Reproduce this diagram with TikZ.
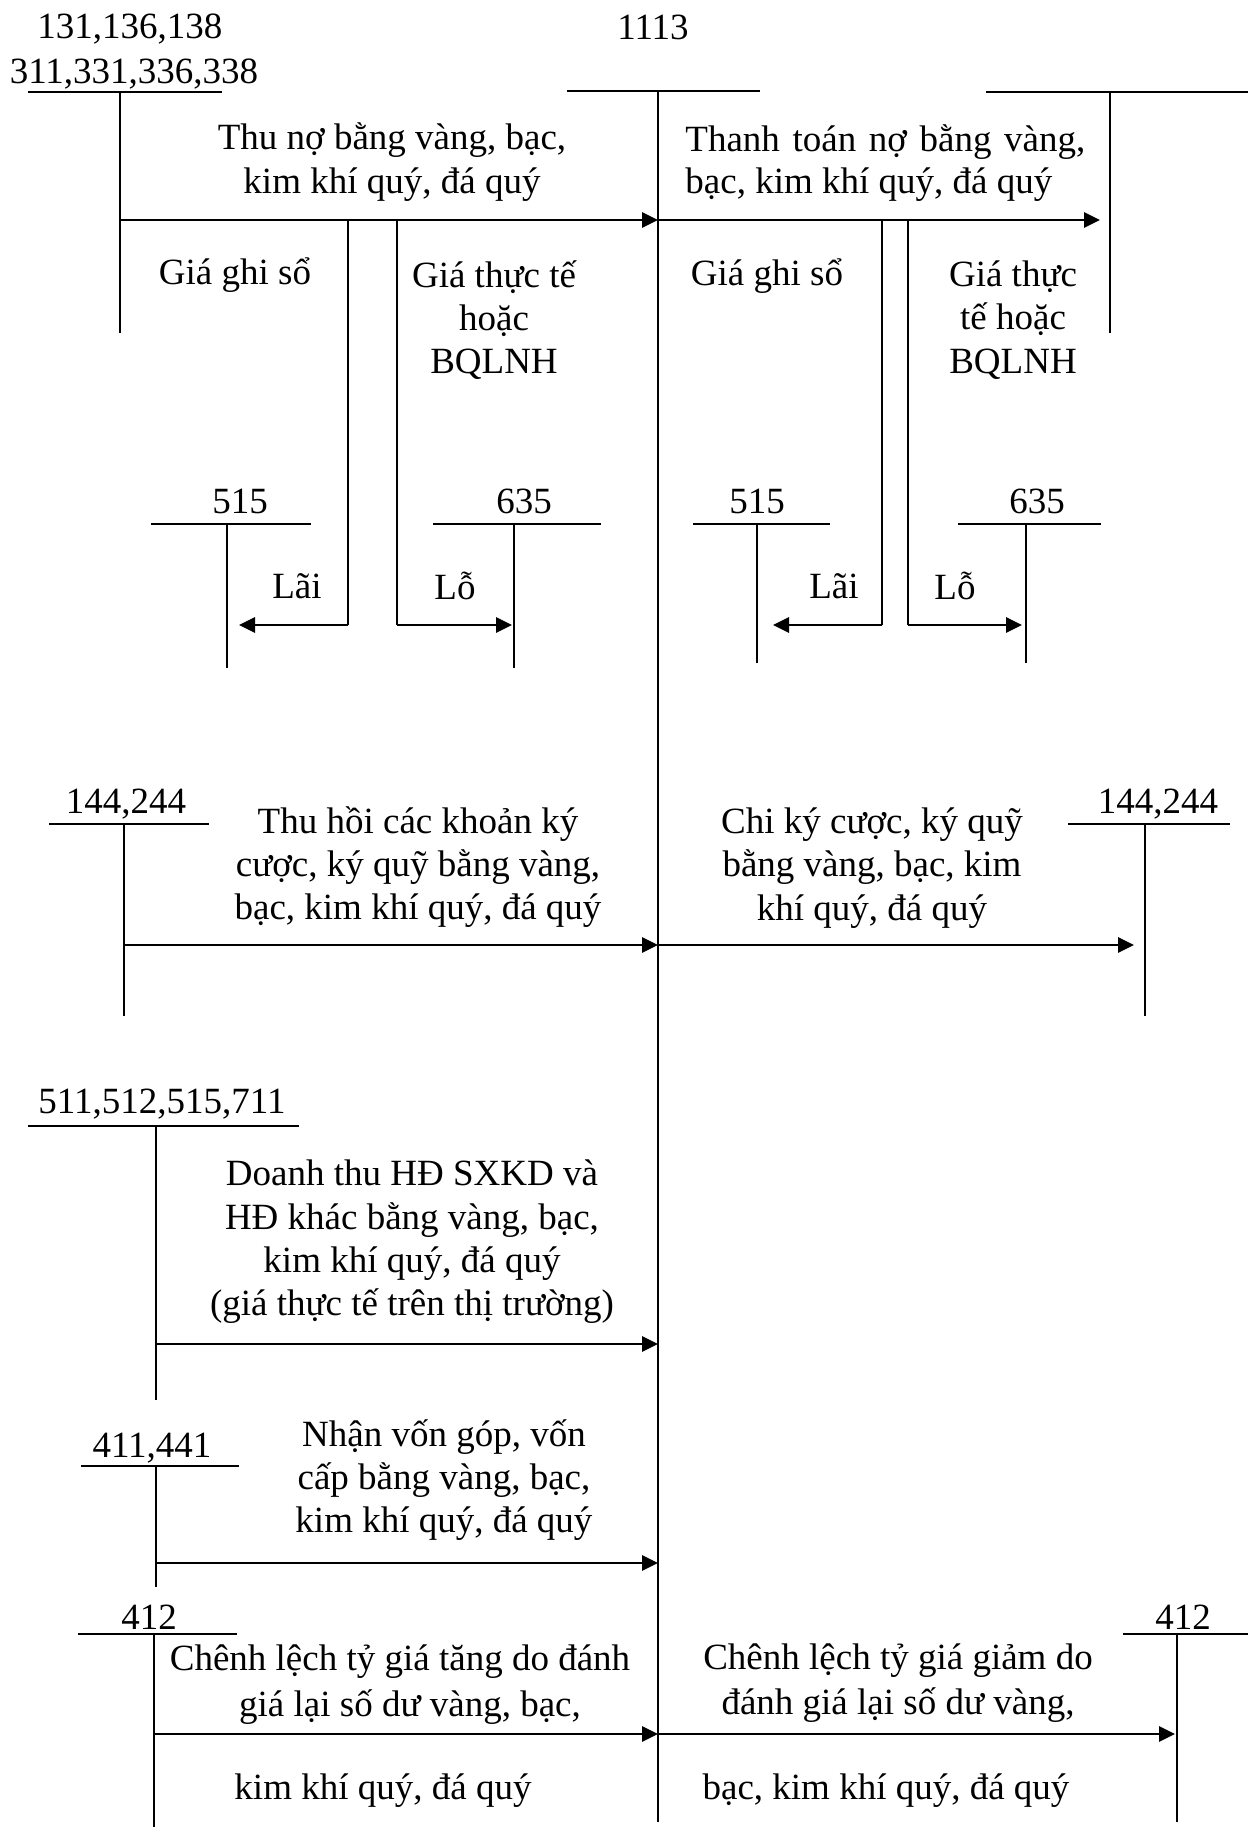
\documentclass[tikz,border=0pt]{standalone}
\usepackage{fontspec}
\setmainfont{Liberation Serif}
\usetikzlibrary{arrows.meta}
\begin{document}
\begin{tikzpicture}[x=0.5pt,y=-0.5pt,
  txt/.style={inner sep=0pt, font=\fontsize{18.5pt}{21.7pt}\selectfont, align=center},
  bar/.style={line width=0.9pt},
  stem/.style={line width=0.6pt},
  flow/.style={line width=1.4pt, -{Triangle[length=8pt,width=7.5pt]}},
  link/.style={line width=0.6pt},
]
\useasboundingbox (0,0) rectangle (1248,1827);

% ---------- main account 1113 ----------
\node[txt] (t1113) at (653,27) {1113};
\coordinate (Mtop) at (658,91);
\coordinate (Mbot) at (658,1822);
\draw[bar] (567,91) -- (760,91);
\draw[stem] (Mtop) -- (Mbot);

% ---------- top-left 131... ----------
\node[txt] (t131) at (130,29) {131,136,138};
\node[txt] (t311) at (134,74) {311,331,336,338};
\coordinate (Ltop) at (120,92);
\draw[bar] (28,92) -- (222,92);
\draw[stem] (Ltop) -- (120,333);
\coordinate (a1) at (120,220);
\draw[flow] (a1) -- (a1 -| Mtop);
\node[txt] (thu) at (392,162) {Thu nợ bằng vàng, bạc,\\kim khí quý, đá quý};
\node[txt] (ggs1) at (235,275) {Giá ghi sổ};
\node[txt] (gtt1) at (494,320) {Giá thực tế\\hoặc\\BQLNH};

% ---------- top-right ----------
\coordinate (Rtop) at (1110,92);
\draw[bar] (986,92) -- (1248,92);
\draw[stem] (Rtop) -- (1110,333);
\coordinate (a2) at (658,220);
\coordinate (a2e) at (1100,220);
\draw[flow] (a2) -- (a2e);
\node[txt, anchor=west] (tt1) at (685,142) {\makebox[200pt][s]{Thanh toán nợ bằng vàng,}};
\node[txt, anchor=west] (tt2) at (685,185) {bạc, kim khí quý, đá quý};
\node[txt] (ggs2) at (767,276) {Giá ghi sổ};
\node[txt] (gtt2) at (1013,320) {Giá thực\\tế hoặc\\BQLNH};

% ---------- 515 / 635 left ----------
\node[txt] (t515a) at (240,501) {515};
\draw[bar] (151,524) -- (311,524);
\coordinate (s515a) at (227,524);
\draw[stem] (s515a) -- (227,668);
\node[txt] (t635a) at (524,501) {635};
\draw[bar] (433,524) -- (601,524);
\coordinate (s635a) at (514,524);
\draw[stem] (s635a) -- (514,668);
\coordinate (b1) at (348,220);
\coordinate (b2) at (397,220);
\draw[link] (b1) -- (348,625);
\draw[flow] (348,625) -- (239,625);
\draw[link] (b2) -- (397,625);
\draw[flow] (397,625) -- (512,625);
\node[txt] (lai1) at (297,586) {Lãi};
\node[txt] (lo1) at (455,586) {Lỗ};

% ---------- 515 / 635 right ----------
\node[txt] (t515b) at (757,501) {515};
\draw[bar] (693,524) -- (830,524);
\coordinate (s515b) at (757,524);
\draw[stem] (s515b) -- (757,663);
\node[txt] (t635b) at (1037,501) {635};
\draw[bar] (958,524) -- (1101,524);
\coordinate (s635b) at (1026,524);
\draw[stem] (s635b) -- (1026,663);
\coordinate (b3) at (882,220);
\coordinate (b4) at (908,220);
\draw[link] (b3) -- (882,625);
\draw[flow] (882,625) -- (773,625);
\draw[link] (b4) -- (908,625);
\draw[flow] (908,625) -- (1022,625);
\node[txt] (lai2) at (834,586) {Lãi};
\node[txt] (lo2) at (955,586) {Lỗ};

% ---------- 144,244 ----------
\node[txt] (t144a) at (126,804) {144,244};
\draw[bar] (49,824) -- (209,824);
\coordinate (s144a) at (124,824);
\draw[stem] (s144a) -- (124,1016);
\coordinate (a3) at (124,945);
\draw[flow] (a3) -- (a3 -| Mtop);
\node[txt] (thuhoi) at (418,867) {Thu hồi các khoản ký\\cược, ký quỹ bằng vàng,\\bạc, kim khí quý, đá quý};

\node[txt] (t144b) at (1158,804) {144,244};
\draw[bar] (1068,824) -- (1230,824);
\coordinate (s144b) at (1145,824);
\draw[stem] (s144b) -- (1145,1016);
\coordinate (a4) at (658,945);
\draw[flow] (a4) -- (1134,945);
\node[txt] (chiky) at (872,868) {Chi ký cược, ký quỹ\\bằng vàng, bạc, kim\\khí quý, đá quý};

% ---------- 511,512,515,711 ----------
\node[txt] (t511) at (162,1104) {511,512,515,711};
\draw[bar] (28,1126) -- (299,1126);
\coordinate (s511) at (156,1126);
\draw[stem] (s511) -- (156,1400);
\coordinate (a5) at (156,1344);
\draw[flow] (a5) -- (a5 -| Mtop);
\node[txt] (doanhthu) at (412,1242) {Doanh thu HĐ SXKD và\\HĐ khác bằng vàng, bạc,\\kim khí quý, đá quý\\(giá thực tế trên thị trường)};

% ---------- 411,441 ----------
\node[txt] (t411) at (152,1448) {411,441};
\draw[bar] (81,1466) -- (239,1466);
\coordinate (s411) at (156,1466);
\draw[stem] (s411) -- (156,1587);
\coordinate (a6) at (156,1563);
\draw[flow] (a6) -- (a6 -| Mtop);
\node[txt] (nhanvon) at (444,1480) {Nhận vốn góp, vốn\\cấp bằng vàng, bạc,\\kim khí quý, đá quý};

% ---------- 412 ----------
\node[txt] (t412a) at (149,1617) {412};
\draw[bar] (78,1634) -- (237,1634);
\coordinate (s412a) at (154,1634);
\draw[stem] (s412a) -- (154,1827);
\coordinate (a7) at (154,1734);
\draw[flow] (a7) -- (a7 -| Mtop);
\node[txt] (cl1a) at (400,1662) {Chênh lệch tỷ giá tăng do đánh};
\node[txt] (cl1b) at (410,1707) {giá lại số dư vàng, bạc,};
\node[txt] (cl1c) at (383,1791) {kim khí quý, đá quý};

\node[txt] (t412b) at (1183,1617) {412};
\draw[bar] (1123,1634) -- (1248,1634);
\coordinate (s412b) at (1177,1634);
\draw[stem] (s412b) -- (1177,1822);
\coordinate (a8) at (658,1734);
\draw[flow] (a8) -- (1175,1734);
\node[txt] (cl2a) at (898,1661) {Chênh lệch tỷ giá giảm do};
\node[txt] (cl2b) at (898,1705) {đánh giá lại số dư vàng,};
\node[txt] (cl2c) at (886,1791) {bạc, kim khí quý, đá quý};
\end{tikzpicture}
\end{document}
